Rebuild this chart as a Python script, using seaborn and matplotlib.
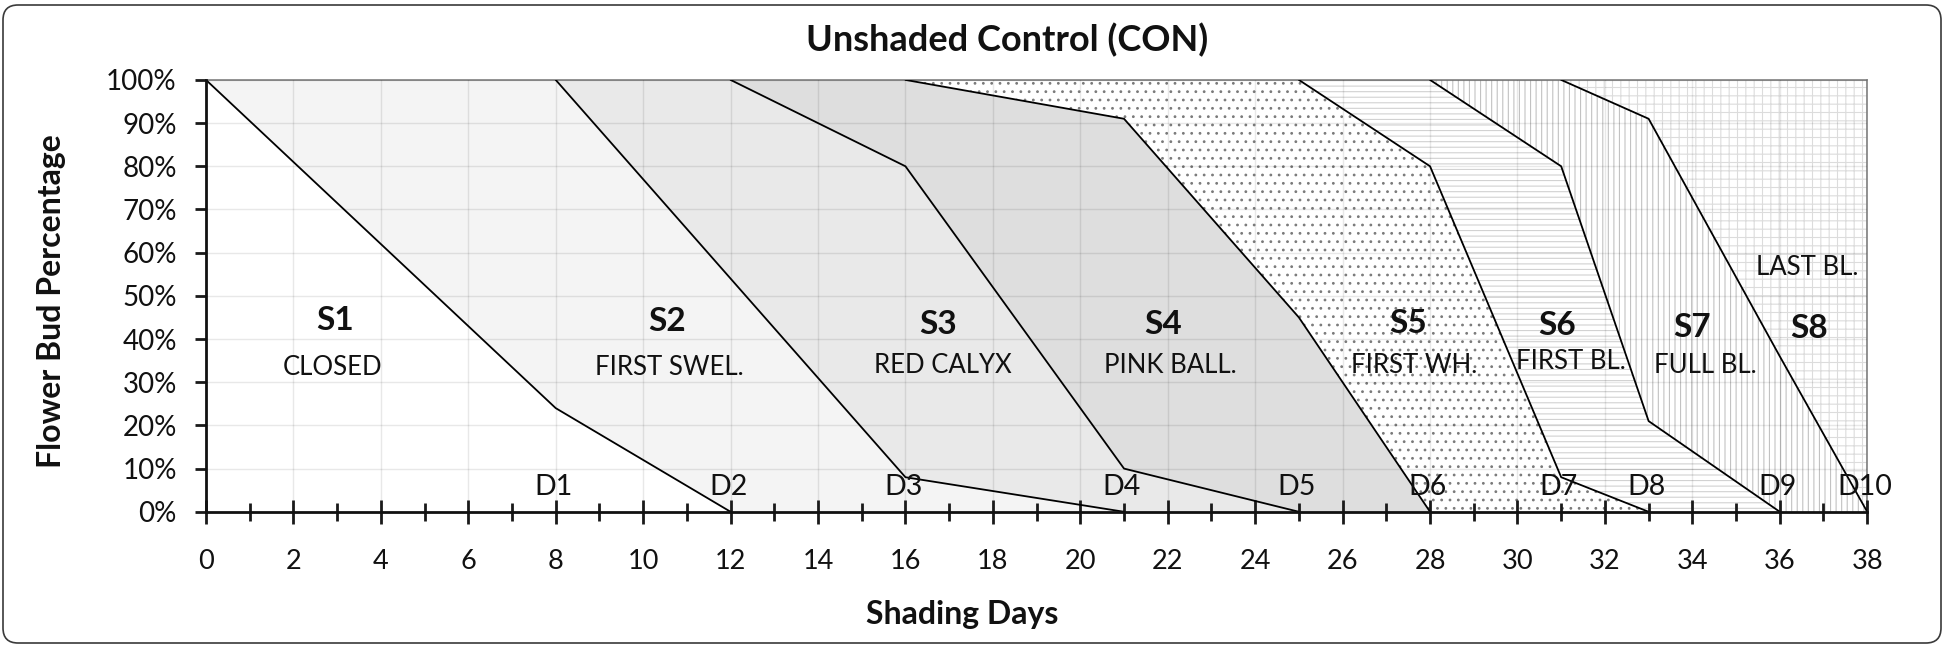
import numpy as np
import pandas as pd
import matplotlib
matplotlib.use("Agg")
import matplotlib.pyplot as plt
import matplotlib.ticker as mticker
from matplotlib.patches import FancyBboxPatch
from matplotlib.transforms import IdentityTransform
import seaborn as sns

# observation days (x axis)
days = [0, 8, 12, 16, 21, 25, 28, 31, 33, 36, 38]

# share of flower buds (%) in each stage on every observation day
s1 = [100, 24, 0, 0, 0, 0, 0, 0, 0, 0, 0]
s2 = [0, 76, 54, 8, 0, 0, 0, 0, 0, 0, 0]
s3 = [0, 0, 46, 72, 10, 0, 0, 0, 0, 0, 0]
s4 = [0, 0, 0, 20, 81, 45, 0, 0, 0, 0, 0]
s5 = [0, 0, 0, 0, 9, 55, 80, 8, 0, 0, 0]
s6 = [0, 0, 0, 0, 0, 0, 20, 72, 21, 0, 0]
s7 = [0, 0, 0, 0, 0, 0, 0, 20, 70, 36, 0]
s8 = [0, 0, 0, 0, 0, 0, 0, 0, 9, 64, 100]

stage_codes = ['S1', 'S2', 'S3', 'S4', 'S5', 'S6', 'S7', 'S8']
stage_names = ['CLOSED', 'FIRST SWEL.', 'RED CALYX', 'PINK BALL.',
               'FIRST WH.', 'FIRST BL.', 'FULL BL.', 'LAST BL.']
date_labels = ['D1', 'D2', 'D3', 'D4', 'D5', 'D6', 'D7', 'D8', 'D9', 'D10']
date_days = [8, 12, 16, 21, 25, 28, 31, 33, 36, 38]

# where the stage annotations sit (day, %)
code_pos = [(2.95, 44.2), (10.55, 44.0), (16.75, 43.3), (21.9, 43.3),
            (27.5, 43.7), (30.9, 43.1), (34.0, 42.6), (36.66, 42.4)]
name_pos = [(2.9, 33.3), (10.6, 33.3), (16.85, 33.9), (22.06, 33.9),
            (27.63, 33.9), (31.23, 34.9), (34.3, 33.9), (36.63, 56.6)]

# fill style of each stage band: facecolor, hatch, hatch colour
styles = [('white', None, 'white'),
          ('#f4f4f4', None, '#f4f4f4'),
          ('#e9e9e9', None, '#e9e9e9'),
          ('#dedede', None, '#dedede'),
          ('white', '..', '#7a7a7a'),
          ('white', '---', '#d2d2d2'),
          ('white', '|||', '#c2c2c2'),
          ('white', '++', '#dcdcdc')]


def sloped(v):
    # keep only the part of a boundary that is not flat at 0 or 100
    v = np.asarray(v, float)
    keep = np.zeros(len(v), bool)
    for i in range(len(v) - 1):
        if v[i] != v[i + 1]:
            keep[i] = keep[i + 1] = True
    return np.where(keep, v, np.nan)


sns.set_theme(style="white")
plt.rcParams['font.family'] = ['Lato', 'DejaVu Sans']
plt.rcParams['hatch.linewidth'] = 0.8

fig = plt.figure(figsize=(19.45, 6.47), dpi=100)
ax = fig.add_axes([0.1059, 0.209, 0.8541, 0.6675])

stages = np.array([s1, s2, s3, s4, s5, s6, s7, s8], dtype=float)
cum = np.cumsum(stages, axis=0)

# stacked bands, one per stage
for k in range(len(stages)):
    lower = cum[k] - stages[k]
    face, hatch, hcol = styles[k]
    ax.fill_between(days, lower, cum[k], facecolor=face, edgecolor=hcol,
                    hatch=hatch, linewidth=0, zorder=1)

# black boundary between neighbouring stages
for k in range(len(stages) - 1):
    df = pd.DataFrame({'day': days, 'pct': sloped(cum[k])}).dropna()
    sns.lineplot(data=df, x='day', y='pct', color='black', lw=1.3,
                 ax=ax, zorder=4, legend=False)

ax.set_xlim(0, 38)
ax.set_ylim(0, 100)
ax.set_xticks(range(0, 39, 2))
ax.set_xticks(range(0, 39, 1), minor=True)
ax.set_yticks(range(0, 101, 10))
ax.yaxis.set_major_formatter(mticker.PercentFormatter(decimals=0))

ax.set_axisbelow(False)
ax.grid(True, which='major', color='black', alpha=0.09, lw=1.0)

ax.tick_params(which='both', bottom=True, left=True, top=False, right=False)
ax.tick_params(axis='x', which='major', direction='inout', length=17,
               width=2, pad=18, labelsize=19.5, color='#1a1a1a')
ax.tick_params(axis='x', which='minor', direction='inout', length=12.5,
               width=2, color='#1a1a1a')
ax.tick_params(axis='y', which='major', direction='out', length=8,
               width=2, pad=13, labelsize=20, color='#1a1a1a')
ax.tick_params(axis='both', labelcolor='#111111')

for side in ['left', 'bottom']:
    ax.spines[side].set_color('#111111')
    ax.spines[side].set_linewidth(2.0)
    ax.spines[side].set_zorder(5)
for side in ['top', 'right']:
    ax.spines[side].set_color('#7f7f7f')
    ax.spines[side].set_linewidth(1.2)

ax.set_xlabel('Shading Days', fontsize=23, fontweight='bold', color='#111111')
ax.xaxis.set_label_coords(0.455, -0.239)
ax.xaxis.label.set_va('center')
ax.set_ylabel('Flower Bud Percentage', fontsize=23, fontweight='bold', color='#111111')
ax.yaxis.set_label_coords(-0.093, 0.487)
ax.yaxis.label.set_va('center')

for code, (x, y) in zip(stage_codes, code_pos):
    ax.text(x, y, code, fontsize=24, fontweight='bold', ha='center',
            va='center', color='#111111', zorder=6)
for name, (x, y) in zip(stage_names, name_pos):
    ax.text(x, y, name, fontsize=18.5, ha='center', va='center',
            color='#111111', zorder=6)
for lab, d in zip(date_labels, date_days):
    ax.text(d - 0.05, 5.8, lab, fontsize=20.5, ha='center', va='center',
            color='#111111', zorder=6)

fig.text(0.518, 0.9374, 'Unshaded Control (CON)', fontsize=26,
         fontweight='bold', ha='center', va='center', color='#111111')

# rounded chart frame around the whole picture
frame = FancyBboxPatch((3, 4), 1938, 638, boxstyle="round,pad=0,rounding_size=15",
                       transform=IdentityTransform(), facecolor='none',
                       edgecolor='#3a3a3a', linewidth=1.2)
fig.patches.append(frame)

fig.savefig('out.png', dpi=100)
